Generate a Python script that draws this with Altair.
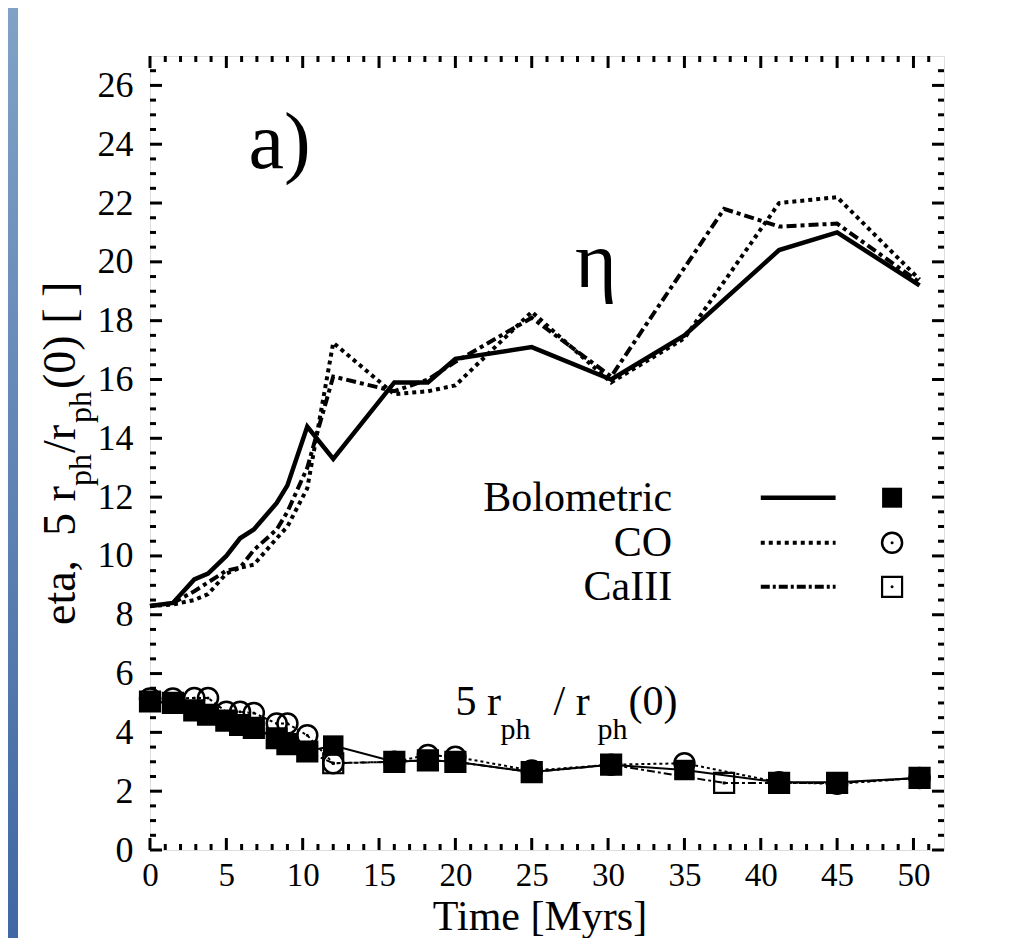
import altair as alt
import pandas as pd

# ---------------- data ----------------
T_BOL = [0, 1.5, 2.9, 3.8, 5.0, 5.9, 6.8, 8.3, 9.0, 10.3, 12.0, 16.0, 18.2, 20.0, 25.0, 30.2, 35.0, 41.2, 45.0, 50.4]
ETA_BOL = [8.3, 8.4, 9.2, 9.4, 10.0, 10.6, 10.9, 11.8, 12.4, 14.4, 13.3, 15.9, 15.9, 16.7, 17.1, 16.0, 17.5, 20.4, 21.0, 19.2]
R_BOL = [5.05, 5.0, 4.75, 4.6, 4.4, 4.25, 4.15, 3.8, 3.6, 3.35, 3.55, 3.0, 3.05, 3.0, 2.65, 2.9, 2.72, 2.3, 2.3, 2.45]

T_CO = [0, 1.5, 2.9, 3.8, 5.0, 5.9, 6.8, 8.3, 9.0, 10.3, 12.0, 16.0, 18.2, 20.0, 25.0, 30.2, 35.0, 41.2, 45.0, 50.4]
ETA_CO = [8.3, 8.35, 8.5, 8.7, 9.4, 9.6, 9.7, 10.6, 11.0, 12.3, 17.25, 15.5, 15.6, 15.8, 18.3, 15.9, 17.4, 22.0, 22.2, 19.4]
R_CO = [5.15, 5.15, 5.17, 5.17, 4.7, 4.7, 4.66, 4.3, 4.3, 3.9, 2.95, 3.0, 3.23, 3.17, 2.7, 2.9, 2.95, 2.3, 2.25, 2.45]

T_CA = [0, 1.5, 2.9, 3.8, 5.0, 5.9, 6.8, 8.3, 9.0, 10.3, 12.0, 16.0, 18.2, 20.0, 25.0, 30.2, 37.6, 41.2, 45.0, 50.4]
ETA_CA = [8.3, 8.4, 8.8, 9.1, 9.5, 9.6, 10.2, 10.9, 11.5, 13.0, 16.1, 15.6, 16.0, 16.6, 18.1, 16.1, 21.8, 21.2, 21.3, 19.3]
R_CA = [5.05, 5.0, 4.75, 4.6, 4.4, 4.25, 4.15, 3.8, 3.6, 3.35, 2.95, 3.0, 3.05, 3.0, 2.65, 2.9, 2.28, 2.28, 2.28, 2.45]

X_LABELS = [0, 5, 10, 15, 20, 25, 30, 35, 40, 45, 50]
Y_LABELS = [0, 2, 4, 6, 8, 10, 12, 14, 16, 18, 20, 22, 24, 26]
X_MINOR = [i for i in range(1, 52) if i % 5 != 0]
Y_MINOR = [i / 2 for i in range(1, 54) if i % 4 != 0]

LEGEND_NAMES = ["Bolometric", "CO", "CaIII"]

# ---------------- layout / style ----------------
FONT = "Liberation Serif"
W = H = 794
xs = alt.Scale(domain=[0, 52], nice=False, zero=False)
ys = alt.Scale(domain=[0, 27], nice=False, zero=False)

df_bol = pd.DataFrame({"t": T_BOL, "eta": ETA_BOL, "r": R_BOL})
df_co = pd.DataFrame({"t": T_CO, "eta": ETA_CO, "r": R_CO})
df_ca = pd.DataFrame({"t": T_CA, "eta": ETA_CA, "r": R_CA})
one = pd.DataFrame({"a": [0]})

# axes: labels only (frame and inward ticks drawn separately)
XAXIS = dict(values=X_LABELS, labelFont=FONT, labelFontSize=33, labelColor="black",
             ticks=False, tickSize=0, domain=False, grid=False, labelPadding=9,
             labelBaseline="top", labelFlush=False, labelOverlap=False, title=None)
YAXIS = dict(values=Y_LABELS, labelFont=FONT, labelFontSize=36, labelColor="black",
             ticks=False, tickSize=0, domain=False, grid=False, labelPadding=17,
             labelBaseline="middle", labelFlush=False, labelOverlap=False, title=None)


def X(f="t"):
    return alt.X(f"{f}:Q", scale=xs, axis=alt.Axis(**XAXIS))


def Y(f):
    return alt.Y(f"{f}:Q", scale=ys, axis=alt.Axis(**YAXIS))


# blue strip at the left edge
strip = alt.Chart(one).mark_rect(
    fill=alt.LinearGradient(gradient="linear", x1=0, y1=0, x2=0, y2=1,
                            stops=[alt.GradientStop(color="#80a2c6", offset=0),
                                   alt.GradientStop(color="#3f67a2", offset=1)])
).encode(x=alt.value(-142), x2=alt.value(-132), y=alt.value(-48), y2=alt.value(890))

# inward ticks on all four sides
TW = 3
MAJ, MIN = 12, 6
xt_maj = pd.DataFrame({"t": X_LABELS})
xt_min = pd.DataFrame({"t": X_MINOR})
yt_maj = pd.DataFrame({"v": Y_LABELS})
yt_min = pd.DataFrame({"v": Y_MINOR})
ticks = []
for d, L in ((xt_maj, MAJ), (xt_min, MIN)):
    ticks.append(alt.Chart(d).mark_rule(color="black", strokeWidth=TW).encode(
        x=X(), y=alt.value(H), y2=alt.value(H - L)))
    ticks.append(alt.Chart(d).mark_rule(color="black", strokeWidth=TW).encode(
        x=X(), y=alt.value(0), y2=alt.value(L)))
for d, L in ((yt_maj, MAJ), (yt_min, MIN)):
    ticks.append(alt.Chart(d).mark_rule(color="black", strokeWidth=TW).encode(
        y=Y("v"), x=alt.value(0), x2=alt.value(L)))
    ticks.append(alt.Chart(d).mark_rule(color="black", strokeWidth=TW).encode(
        y=Y("v"), x=alt.value(W), x2=alt.value(W - L)))

DOT = [4, 4]
DASHDOT = [10, 4, 4, 4]

# upper eta curves
eta_ca = alt.Chart(df_ca).mark_line(color="black", strokeWidth=4, strokeDash=DASHDOT).encode(x=X(), y=Y("eta"), order="t:Q")
eta_co = alt.Chart(df_co).mark_line(color="black", strokeWidth=4, strokeDash=DOT).encode(x=X(), y=Y("eta"), order="t:Q")
eta_bol = alt.Chart(df_bol).mark_line(color="black", strokeWidth=4.5).encode(x=X(), y=Y("eta"), order="t:Q")

# lower 5 r_ph / r_ph(0) curves
r_ca = alt.Chart(df_ca).mark_line(color="black", strokeWidth=2, strokeDash=[8, 3, 3, 3]).encode(x=X(), y=Y("r"), order="t:Q")
r_co = alt.Chart(df_co).mark_line(color="black", strokeWidth=2, strokeDash=[3, 3]).encode(x=X(), y=Y("r"), order="t:Q")
r_bol = alt.Chart(df_bol).mark_line(color="black", strokeWidth=2).encode(x=X(), y=Y("r"), order="t:Q")

p_ca = alt.Chart(df_ca).mark_point(shape="square", filled=False, color="black", strokeWidth=2.2, size=400, opacity=1).encode(x=X(), y=Y("r"))
p_ca_dot = alt.Chart(df_ca).mark_point(shape="square", filled=True, color="black", size=9, opacity=1).encode(x=X(), y=Y("r"))
p_co = alt.Chart(df_co).mark_point(shape="circle", filled=False, color="black", strokeWidth=2.5, size=400, opacity=1).encode(x=X(), y=Y("r"))
p_co_dot = alt.Chart(df_co).mark_point(shape="circle", filled=True, color="black", size=9, opacity=1).encode(x=X(), y=Y("r"))
p_bol = alt.Chart(df_bol).mark_point(shape="square", filled=True, color="black", size=420, opacity=1).encode(x=X(), y=Y("r"))


def txt(t, v, s, size, align="left", baseline="alphabetic"):
    d = pd.DataFrame({"t": [t], "v": [v]})
    return alt.Chart(d).mark_text(text=s, font=FONT, fontSize=size, color="black",
                                  align=align, baseline=baseline).encode(x=X(), y=Y("v"))


annots = [
    txt(6.45, 23.2, "a)", 80),
    txt(29.2, 19.16, "η", 80, align="center"),
    txt(20.0, 4.6, "5 r", 42),
    txt(22.95, 3.78, "ph", 30),
    txt(26.43, 4.6, "/ r", 42),
    txt(29.31, 3.78, "ph", 30),
    txt(31.34, 4.6, "(0)", 42),
]

# legend (inside the plot)
LEG_V = [11.98, 10.45, 8.95]
LEG_TXT_T = 34.2
LEG_L0, LEG_L1 = 40.0, 44.9
LEG_M = 48.6
leg = []
for name, v in zip(LEGEND_NAMES, LEG_V):
    leg.append(txt(LEG_TXT_T, v, name, 42, align="right", baseline="middle"))
leg_lines = pd.DataFrame({"t": [LEG_L0] * 3, "t2": [LEG_L1] * 3, "v": LEG_V})
styles = [dict(strokeWidth=4.5), dict(strokeWidth=4, strokeDash=DOT),
          dict(strokeWidth=4, strokeDash=[9, 3, 3, 3])]
for i in range(3):
    leg.append(alt.Chart(leg_lines.iloc[[i]]).mark_rule(color="black", **styles[i]).encode(
        x=X(), x2="t2:Q", y=Y("v")))
leg_pts = pd.DataFrame({"t": [LEG_M] * 3, "v": LEG_V})
leg.append(alt.Chart(leg_pts.iloc[[0]]).mark_point(shape="square", filled=True, color="black", size=400, opacity=1).encode(x=X(), y=Y("v")))
leg.append(alt.Chart(leg_pts.iloc[[1]]).mark_point(shape="circle", filled=False, color="black", strokeWidth=2.5, size=400, opacity=1).encode(x=X(), y=Y("v")))
leg.append(alt.Chart(leg_pts.iloc[[2]]).mark_point(shape="square", filled=False, color="black", strokeWidth=2.2, size=400, opacity=1).encode(x=X(), y=Y("v")))
leg.append(alt.Chart(leg_pts.iloc[[1, 2]]).mark_point(shape="circle", filled=True, color="black", size=9, opacity=1).encode(x=X(), y=Y("v")))


# axis titles (text pieces so the subscripts can be drawn)
def rtxt(px, py, s, size):
    return alt.Chart(one).mark_text(text=s, font=FONT, fontSize=size, color="black", angle=270,
                                    align="left", baseline="alphabetic").encode(
        x=alt.value(px), y=alt.value(py))


MAIN_X, SUB_X = -75, -59
titles = [
    rtxt(MAIN_X, 625 - 56, "eta,", 46),
    rtxt(MAIN_X, 536 - 56, "5 r", 46),
    rtxt(SUB_X, 486 - 56, "ph", 32),
    rtxt(MAIN_X, 453 - 56, "/r", 46),
    rtxt(SUB_X, 423 - 56, "ph", 32),
    rtxt(MAIN_X, 389 - 56, "(0) [ ]", 46),
    alt.Chart(one).mark_text(text="Time  [Myrs]", font=FONT, fontSize=42, color="black",
                             align="center", baseline="alphabetic").encode(
        x=alt.value(390), y=alt.value(874)),
]

chart = alt.layer(
    strip, *ticks,
    eta_ca, eta_co, eta_bol,
    r_ca, r_co, r_bol,
    p_ca, p_ca_dot, p_co, p_co_dot, p_bol,
    *annots, *leg, *titles,
).properties(
    width=W, height=H,
    autosize=alt.AutoSizeParams(type="none"),
    padding={"left": 142, "top": 48, "right": 60, "bottom": 88},
).configure_view(
    stroke="black", strokeWidth=3
).configure(background="white")

chart.save("out.html", embed_options={"renderer": "svg", "actions": False})
